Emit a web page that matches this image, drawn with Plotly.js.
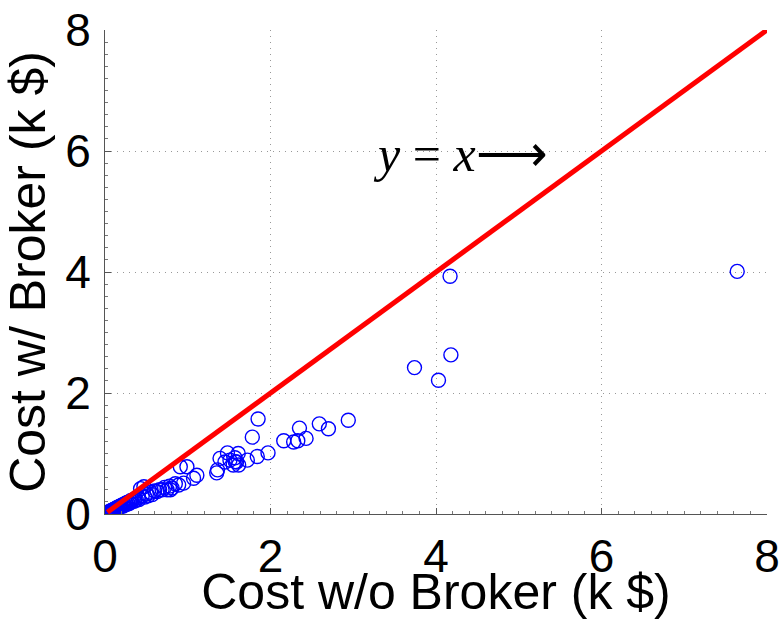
<!DOCTYPE html>
<html>
<head>
<meta charset="utf-8">
<script src="https://cdn.plot.ly/plotly-3.0.1.min.js"></script>
<style>html,body{margin:0;padding:0;background:#fff;}#chart{width:783px;height:620px;}</style>
</head>
<body>
<div id="chart"></div>
<script>
// Cost without broker (k $)
const costWithoutBroker = [
  0.01,0.02,0.03,0.04,0.05,0.06,0.07,0.08,0.09,0.10,0.11,0.12,0.13,0.14,0.15,0.16,0.17,0.18,0.19,0.20,
  0.21,0.22,0.23,0.24,0.25,0.26,0.27,0.28,0.29,0.30,0.31,0.32,0.33,0.35,0.36,0.38,0.40,0.41,0.43,0.45,
  0.47,0.48,0.50,0.52,0.55,0.57,0.60,0.63,0.66,0.69,0.72,0.75,0.78,0.79,0.81,0.85,0.89,0.91,0.95,0.99,
  1.07,1.11,1.35,1.36,1.39,1.45,1.48,1.51,1.55,1.57,1.575,1.59,1.61,1.615,1.72,1.78,1.84,1.85,1.97,
  2.16,2.28,2.33,2.35,2.43,2.59,2.70,2.94,3.74,4.03,4.17,4.18,7.64
];
// Cost with broker (k $)
const costWithBroker = [
  0.01,0.02,0.02,0.03,0.04,0.04,0.05,0.06,0.06,0.07,0.08,0.08,0.09,0.10,0.11,0.10,0.12,0.13,0.12,0.14,
  0.15,0.13,0.16,0.15,0.18,0.16,0.19,0.17,0.20,0.18,0.22,0.20,0.23,0.21,0.25,0.23,0.27,0.24,0.42,0.30,
  0.45,0.28,0.33,0.30,0.36,0.32,0.38,0.37,0.40,0.40,0.44,0.40,0.46,0.40,0.43,0.50,0.48,0.78,0.51,0.78,
  0.59,0.64,0.68,0.73,0.92,0.86,1.01,0.89,0.81,0.93,0.865,0.86,1.00,0.81,0.89,1.27,0.95,1.57,1.01,
  1.21,1.19,1.21,1.42,1.25,1.49,1.41,1.55,2.42,2.21,3.93,2.63,4.01
];
// Reference line y = x
const refLineX = [0.03, 8];
const refLineY = [0.03, 8];
const xTickVals = [0, 2, 4, 6, 8];
const yTickVals = [0, 2, 4, 6, 8];
const xTitle = "Cost w/o Broker (k $)";
const yTitle = "Cost w/ Broker (k $)";
const annText = "<i>y</i> = <i>x</i>⟶";

const traces = [
  {
    x: costWithoutBroker, y: costWithBroker, type: "scatter", mode: "markers",
    marker: {symbol: "circle-open", size: 14, color: "#0000ff", line: {width: 1.4, color: "#0000ff"}},
    hoverinfo: "skip", showlegend: false
  },
  {
    x: refLineX, y: refLineY, type: "scatter", mode: "lines",
    line: {color: "#ff0000", width: 5}, hoverinfo: "skip", showlegend: false
  }
];

const axisCommon = {
  range: [0, 8], tickmode: "array", showline: true, linecolor: "#555", linewidth: 1,
  ticks: "inside", ticklen: 6, tickcolor: "#555", tickwidth: 1,
  showgrid: true, gridcolor: "#999", griddash: "1px,5px", gridwidth: 1,
  zeroline: false, mirror: false, automargin: false,
  tickfont: {family: "Liberation Sans, Arial, sans-serif", size: 46, color: "#000"},
  minor: {dtick: 0.2, ticks: "inside", ticklen: 3, tickcolor: "#777", showgrid: false}
};

const layout = {
  width: 783, height: 620,
  margin: {l: 105, r: 16, t: 30, b: 106},
  paper_bgcolor: "#fff", plot_bgcolor: "#fff",
  xaxis: Object.assign({}, axisCommon, {
    tickvals: xTickVals, ticklabelstandoff: 2,
    title: {text: xTitle, standoff: 2, font: {family: "Liberation Sans, Arial, sans-serif", size: 50, color: "#000"}}
  }),
  yaxis: Object.assign({}, axisCommon, {
    tickvals: yTickVals, ticklabelstandoff: 4,
    title: {text: yTitle, standoff: 10, font: {family: "Liberation Sans, Arial, sans-serif", size: 50, color: "#000"}}
  }),
  annotations: [{
    x: 4.29, y: 5.95, xref: "x", yref: "y", text: annText, showarrow: false,
    xanchor: "center", yanchor: "middle",
    font: {family: "Liberation Serif, Times New Roman, serif", size: 50, color: "#000"}
  }]
};

Plotly.newPlot("chart", traces, layout, {staticPlot: true, displayModeBar: false});
</script>
</body>
</html>
